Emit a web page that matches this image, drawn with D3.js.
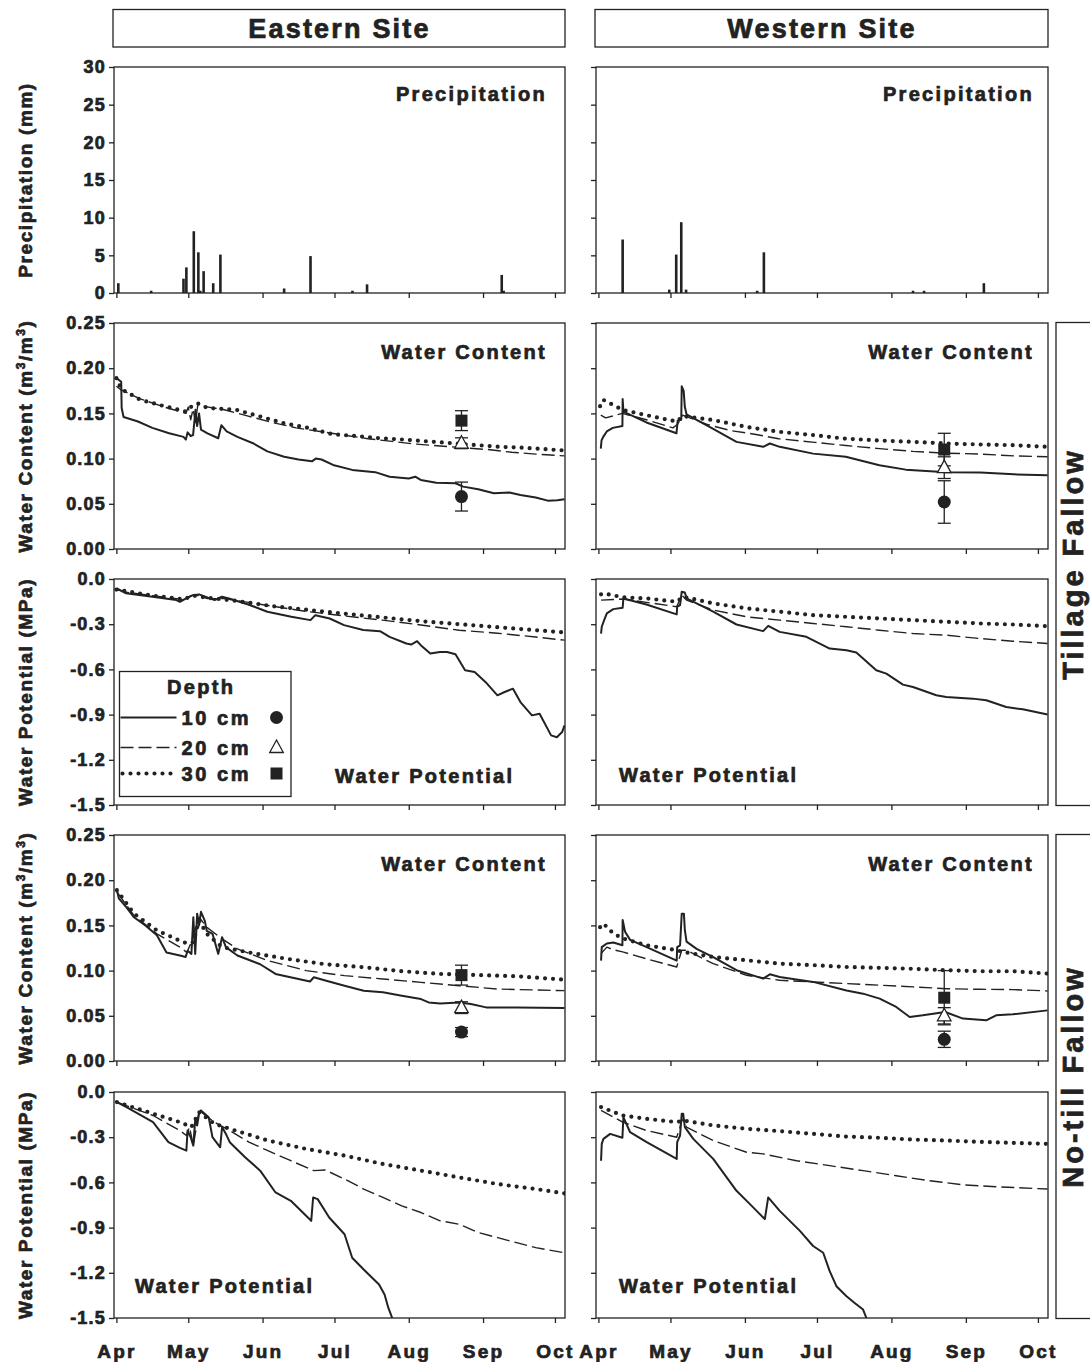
<!DOCTYPE html>
<html>
<head>
<meta charset="utf-8">
<script src="https://cdn.jsdelivr.net/npm/d3@7"></script>
<style>
body { margin: 0; background: #fff; }
svg text { font-family: "Liberation Sans", Arial, sans-serif; font-weight: bold; fill: #222; stroke: #222; stroke-width: 0.7px; }
</style>
</head>
<body>
<svg id="chart" width="1090" height="1362"></svg>
<script>
// tick labels and categories
const months = ["Apr", "May", "Jun", "Jul", "Aug", "Sep", "Oct"];
const sites = ["Eastern Site", "Western Site"];
const treatments = ["Tillage Fallow", "No-till Fallow"];
const depths = ["10 cm", "20 cm", "30 cm"];
const obsDay = 144; // day of the soil sampling (days after Apr 1)

// precipitation: [days after Apr 1, mm]
const precipEast = [[0.8,1.3],[14.5,0.3],[28,1.9],[29.2,3.4],[32.3,8.2],[34.2,5.4],[35,0.3],[36.4,2.9],[40.4,1.3],[43.4,5.1],[70,0.6],[81,4.9],[98.5,0.3],[104.6,1.15],[160.8,2.4],[161.6,0.3]];
const precipWest = [[10.1,7.1],[29.5,0.45],[32.4,5.1],[34.5,9.4],[36.5,0.45],[66.1,0.3],[68.9,5.4],[131,0.3],[135.6,0.3],[160.5,1.3]];

// water content, tillage fallow
const wcTillE10 = [[0,0.189],[2,0.185],[2.2,0.156],[3,0.146],[9,0.141],[15,0.134],[22,0.128],[28,0.124],[29,0.121],[29.7,0.129],[31,0.125],[32,0.126],[33,0.154],[33.7,0.136],[34.5,0.150],[35.3,0.132],[38,0.128],[42.5,0.1225],[43.8,0.137],[46,0.130],[50.5,0.124],[57,0.117],[63,0.108],[70,0.102],[76,0.099],[81.6,0.097],[83.2,0.100],[85.6,0.099],[90.4,0.093],[98.4,0.0875],[108,0.085],[114,0.080],[122,0.078],[124.7,0.080],[127,0.0764],[133.5,0.0734],[141.5,0.0727],[144.7,0.069],[151,0.066],[157.5,0.0616],[164,0.0624],[168.6,0.0598],[175,0.057],[180,0.0535],[184,0.054],[187,0.055]];
const wcTillE20 = [[0,0.180],[2,0.176],[10,0.166],[20,0.157],[28,0.151],[29,0.150],[30,0.157],[31,0.143],[32,0.155],[33,0.140],[34,0.160],[36,0.158],[45,0.154],[55,0.147],[65,0.140],[75,0.134],[85,0.130],[95,0.126],[105,0.122],[115,0.119],[125,0.116],[135,0.114],[145,0.112],[155,0.110],[165,0.107],[175,0.105],[187,0.103]];
const wcTillE30 = [[0,0.189],[2,0.177],[10,0.165],[20,0.158],[29,0.152],[31,0.157],[34,0.161],[38,0.156],[50,0.154],[60,0.1465],[70,0.139],[80,0.134],[90,0.127],[100,0.125],[110,0.1225],[120,0.121],[130,0.119],[140,0.117],[150,0.115],[160,0.113],[170,0.112],[187,0.109]];
const wcTillW10 = [[1,0.111],[1.3,0.120],[2,0.124],[3.5,0.130],[6,0.134],[10,0.136],[10.1,0.166],[10.4,0.152],[20,0.140],[32.5,0.128],[33,0.142],[34.5,0.143],[34.7,0.180],[35.5,0.175],[36,0.157],[36.7,0.149],[47.8,0.133],[57.5,0.1185],[68.6,0.113],[71.4,0.1167],[75.5,0.113],[89.4,0.1055],[103,0.102],[117,0.0926],[128,0.0878],[145,0.085],[159,0.0845],[173,0.0826],[187,0.0815]];
const wcTillW20 = [[1,0.148],[3,0.145],[10,0.150],[20,0.143],[31,0.134],[33,0.138],[35,0.148],[45,0.138],[55,0.131],[65,0.127],[75,0.122],[90,0.118],[103,0.1145],[117,0.111],[131,0.108],[145,0.106],[159,0.105],[173,0.103],[187,0.102]];
const wcTillW30 = [[0.7,0.158],[2,0.165],[10,0.154],[20,0.148],[32.6,0.141],[35.3,0.147],[47.8,0.1426],[61.7,0.135],[75.5,0.1296],[89.4,0.126],[103,0.122],[117,0.120],[131,0.1185],[145,0.1167],[159,0.1156],[173,0.1148],[187,0.113]];

// water potential, tillage fallow
const wpTillE10 = [[0.2,-0.062],[4,-0.095],[15,-0.118],[25,-0.14],[26.5,-0.151],[29.7,-0.124],[32,-0.107],[34.5,-0.102],[41,-0.14],[44,-0.118],[47,-0.129],[55,-0.169],[63,-0.217],[73,-0.251],[81,-0.273],[83,-0.24],[89,-0.262],[95,-0.306],[103,-0.339],[110,-0.346],[114,-0.384],[121,-0.428],[123,-0.435],[125.5,-0.413],[127,-0.439],[131,-0.495],[135,-0.484],[138,-0.484],[141.5,-0.499],[145.5,-0.606],[149.5,-0.617],[154,-0.683],[159,-0.772],[162,-0.75],[165.5,-0.728],[168.6,-0.817],[173.4,-0.905],[176.6,-0.894],[181.4,-1.038],[183.8,-1.05],[186,-1.016],[187,-0.972]];
const wpTillE20 = [[0,-0.07],[5,-0.09],[15,-0.11],[25,-0.13],[29,-0.14],[31,-0.11],[33,-0.105],[38,-0.13],[45,-0.13],[55,-0.155],[65,-0.18],[79,-0.215],[95,-0.245],[111,-0.273],[127,-0.305],[143,-0.34],[159,-0.36],[175,-0.385],[187,-0.406]];
const wpTillE30 = [[0,-0.07],[15,-0.11],[28,-0.135],[32,-0.11],[38,-0.125],[50,-0.145],[65,-0.18],[80,-0.205],[95,-0.23],[111,-0.255],[127,-0.28],[143,-0.3],[159,-0.32],[175,-0.34],[187,-0.355]];
const wpTillW10 = [[1.1,-0.362],[1.4,-0.317],[2.4,-0.273],[3.5,-0.228],[6.2,-0.2],[10.1,-0.191],[10.4,-0.129],[20,-0.169],[32.6,-0.235],[32.8,-0.184],[34,-0.173],[34.7,-0.084],[36,-0.089],[36.7,-0.129],[47.8,-0.217],[57.5,-0.302],[68.6,-0.346],[70.7,-0.311],[75.5,-0.351],[86.6,-0.384],[96.3,-0.462],[103.3,-0.473],[107.4,-0.488],[115.7,-0.606],[119.9,-0.628],[126.8,-0.701],[131,-0.717],[140.7,-0.772],[144.8,-0.783],[155.9,-0.794],[161.5,-0.805],[169.8,-0.85],[176.7,-0.865],[187,-0.899]];
const wpTillW20 = [[1.1,-0.14],[10.4,-0.133],[32.6,-0.184],[34.7,-0.107],[36.7,-0.14],[47.8,-0.206],[61.7,-0.251],[75.5,-0.273],[89.4,-0.295],[103.3,-0.317],[117,-0.34],[131,-0.362],[144.8,-0.373],[158.7,-0.395],[172.6,-0.413],[187,-0.428]];
const wpTillW30 = [[1.1,-0.102],[2.1,-0.095],[10.4,-0.122],[20.1,-0.129],[32.6,-0.151],[35.3,-0.118],[47.8,-0.162],[61.7,-0.195],[75.5,-0.217],[89.4,-0.24],[103.3,-0.251],[117,-0.262],[131,-0.273],[144.8,-0.284],[158.7,-0.295],[172.6,-0.302],[187,-0.313]];

// water content, no-till fallow
const wcNoE10 = [[0.2,0.189],[1,0.18],[4.2,0.170],[7.3,0.159],[12.1,0.15],[16.9,0.139],[20.9,0.120],[26.5,0.1167],[28.9,0.115],[29.7,0.122],[31.3,0.1185],[32.1,0.159],[32.9,0.1185],[33.7,0.163],[34.5,0.15],[35.3,0.165],[36.9,0.155],[37.7,0.144],[40.1,0.1407],[42.5,0.1185],[44.1,0.137],[45.7,0.126],[50.5,0.1167],[60,0.107],[66.4,0.0963],[76,0.0907],[80.8,0.088],[82.4,0.0926],[87.2,0.089],[95.2,0.0833],[103.2,0.0778],[111.2,0.076],[119.1,0.0722],[127.1,0.0685],[130.3,0.0648],[135.1,0.0637],[143.1,0.0648],[147.9,0.063],[154.3,0.0593],[167,0.0593],[187,0.0585]];
const wcNoE20 = [[0.2,0.187],[7.3,0.161],[16.9,0.1407],[26.5,0.126],[29.4,0.12],[31.3,0.1315],[34.5,0.159],[37.7,0.148],[44.1,0.135],[50.5,0.124],[63.2,0.111],[79.2,0.1],[95.2,0.0944],[111.2,0.0907],[127.1,0.087],[143.1,0.0833],[159.1,0.0796],[187,0.0778]];
const wcNoE30 = [[0.2,0.189],[7.3,0.163],[16.9,0.1445],[26.5,0.133],[29.7,0.13],[32.1,0.1315],[34.5,0.1556],[37.7,0.1407],[44.1,0.126],[55.3,0.120],[71.2,0.113],[87.2,0.107],[103.2,0.1037],[119.1,0.0993],[135.1,0.0963],[151.1,0.095],[167,0.0937],[187,0.09]];
const wcNoW10 = [[1.1,0.111],[1.4,0.126],[3.5,0.130],[6.2,0.131],[10.0,0.128],[10.1,0.156],[11.1,0.143],[13.2,0.134],[20.1,0.126],[32.6,0.111],[32.8,0.126],[34,0.128],[34.7,0.163],[35.6,0.163],[36,0.1447],[36.7,0.132],[40.9,0.124],[47.8,0.115],[57.5,0.1004],[68.6,0.0911],[71.4,0.0959],[75.5,0.093],[89.4,0.0875],[103.3,0.078],[110.2,0.0745],[117.1,0.069],[124,0.0598],[129.6,0.0487],[135.1,0.0505],[144.4,0.0542],[151.8,0.0469],[161.5,0.045],[165.6,0.0505],[172.6,0.0517],[187,0.056]];
const wcNoW20 = [[1.1,0.1188],[3.5,0.126],[6.2,0.123],[10.1,0.1207],[20.1,0.113],[32.6,0.104],[34.7,0.1225],[36.7,0.1225],[47.8,0.1077],[61.7,0.0948],[75.5,0.0893],[89.4,0.0875],[103.3,0.0856],[117.1,0.0838],[131,0.082],[144.8,0.080],[158.7,0.0793],[172.6,0.079],[187,0.0775]];
const wcNoW30 = [[0.7,0.148],[2.1,0.152],[6.2,0.141],[10.4,0.1354],[20.1,0.128],[32.6,0.1225],[35.3,0.1207],[47.8,0.115],[61.7,0.1114],[75.5,0.1077],[89.4,0.106],[103.3,0.104],[117.1,0.103],[131,0.102],[144.8,0.1004],[158.7,0.0993],[172.6,0.0993],[187,0.0967]];

// water potential, no-till fallow
const wpNoE10 = [[0.2,-0.067],[4.2,-0.1],[10.5,-0.156],[15.3,-0.2],[18.5,-0.267],[21.7,-0.333],[26.5,-0.371],[29.2,-0.389],[29.7,-0.256],[31,-0.3],[32.1,-0.356],[32.9,-0.178],[33.7,-0.222],[34.5,-0.144],[35.3,-0.122],[38.5,-0.167],[40.1,-0.3],[43.3,-0.367],[44.1,-0.233],[45.7,-0.278],[47.3,-0.333],[53.7,-0.433],[60,-0.522],[66.4,-0.667],[72.8,-0.722],[81.3,-0.855],[82.1,-0.7],[84,-0.711],[88.8,-0.833],[95.2,-0.944],[98.4,-1.1],[103.2,-1.178],[109.6,-1.278],[111.9,-1.344],[113.5,-1.433],[115.1,-1.5]];
const wpNoE20 = [[0.2,-0.067],[15.3,-0.156],[26.5,-0.256],[29.2,-0.289],[30.5,-0.233],[32.1,-0.356],[34.5,-0.122],[40.9,-0.2],[47.3,-0.256],[55.3,-0.333],[63.2,-0.389],[72.8,-0.456],[82.4,-0.522],[87.2,-0.518],[95.2,-0.578],[103.2,-0.644],[111.2,-0.7],[119.1,-0.756],[127.1,-0.8],[135.1,-0.855],[143.1,-0.878],[151.1,-0.933],[159.1,-0.967],[167,-1.0],[175,-1.033],[187,-1.067]];
const wpNoE30 = [[0.2,-0.067],[15.3,-0.144],[26.5,-0.2],[31.3,-0.233],[34.5,-0.133],[40.9,-0.211],[47.3,-0.244],[63.2,-0.322],[79.2,-0.378],[95.2,-0.422],[111.2,-0.478],[127.1,-0.522],[143.1,-0.567],[159.1,-0.611],[175,-0.644],[187,-0.673]];
const wpNoW10 = [[1.1,-0.456],[1.4,-0.344],[2.1,-0.311],[4.9,-0.278],[10.0,-0.304],[10.4,-0.167],[13.2,-0.267],[20.1,-0.333],[32.6,-0.444],[32.8,-0.333],[34,-0.289],[34.7,-0.144],[35.3,-0.144],[36,-0.233],[39.5,-0.311],[47.8,-0.444],[57.5,-0.656],[63.1,-0.744],[69.3,-0.844],[70.7,-0.7],[75.5,-0.789],[83.9,-0.922],[89.4,-1.022],[93.6,-1.067],[96.3,-1.189],[99.1,-1.289],[103.3,-1.356],[106.7,-1.4],[110.2,-1.444],[111.6,-1.5]];
const wpNoW20 = [[1.1,-0.122],[10.1,-0.2],[20.1,-0.256],[32.6,-0.3],[34,-0.233],[34.7,-0.178],[36.7,-0.233],[47.8,-0.322],[61.7,-0.4],[68.6,-0.411],[82.5,-0.456],[96.3,-0.489],[110.2,-0.522],[124,-0.556],[137.9,-0.589],[151.8,-0.616],[165.6,-0.629],[187,-0.644]];
const wpNoW30 = [[1.1,-0.1],[10.1,-0.156],[20.1,-0.178],[32.6,-0.2],[35.3,-0.189],[47.8,-0.222],[61.7,-0.244],[75.5,-0.26],[89.4,-0.278],[103.3,-0.296],[117.1,-0.304],[131,-0.316],[144.8,-0.322],[158.7,-0.331],[172.6,-0.338],[187,-0.344]];

// measured water content on the sampling day: [value, error] for 10, 20, 30 cm
const obsTillEast = [[0.058,0.016],[0.117,0.006],[0.142,0.011]];
const obsTillWest = [[0.052,0.0235],[0.090,0.012],[0.110,0.018]];
const obsNoEast = [[0.032,0.005],[0.059,0.0065],[0.095,0.011]];
const obsNoWest = [[0.024,0.009],[0.050,0.009],[0.070,0.030]];

const svg = d3.select("#chart");
const ink = "#222";

const t0 = new Date(2005, 3, 1);
const toDate = d => new Date(+t0 + d * 864e5);
const monthDates = months.map((m, i) => new Date(2005, 3 + i, 1));

const cols = [{ x: 114, w: 451, pad: 18 }, { x: 596, w: 452, pad: 14 }];
const rowTop = [67, 323, 579, 835, 1092];
const ph = 226;

const rowKinds = ["precip", "wc", "wp", "wc", "wp"];
const yDomains = { precip: [0, 30], wc: [0, 0.25], wp: [-1.5, 0] };
const yTicks = {
    precip: d3.range(0, 31, 5),
    wc: [0, 0.05, 0.1, 0.15, 0.2, 0.25],
    wp: [-1.5, -1.2, -0.9, -0.6, -0.3, 0]
};
const yFmt = {
    precip: d => d,
    wc: d => d.toFixed(2),
    wp: d => (Math.abs(d) < 1e-9 ? 0 : d).toFixed(1)
};
const yTitles = {
    precip: "Precipitation (mm)",
    wp: "Water Potential (MPa)"
};

const panels = [
    { row: 0, col: 0, bars: precipEast },
    { row: 0, col: 1, bars: precipWest },
    { row: 1, col: 0, lines: [wcTillE10, wcTillE20, wcTillE30], obs: obsTillEast },
    { row: 1, col: 1, lines: [wcTillW10, wcTillW20, wcTillW30], obs: obsTillWest },
    { row: 2, col: 0, lines: [wpTillE10, wpTillE20, wpTillE30], label: [221, 204], legend: true },
    { row: 2, col: 1, lines: [wpTillW10, wpTillW20, wpTillW30], label: [23, 203] },
    { row: 3, col: 0, lines: [wcNoE10, wcNoE20, wcNoE30], obs: obsNoEast },
    { row: 3, col: 1, lines: [wcNoW10, wcNoW20, wcNoW30], obs: obsNoWest },
    { row: 4, col: 0, lines: [wpNoE10, wpNoE20, wpNoE30], label: [21, 201] },
    { row: 4, col: 1, lines: [wpNoW10, wpNoW20, wpNoW30], label: [23, 201] }
];

const lineStyles = [
    { width: 2, dash: null, cap: "butt" },
    { width: 1.4, dash: "13,5", cap: "butt" },
    { width: 4.2, dash: "0,8", cap: "round" }
];

function styleLine(sel, i) {
    const s = lineStyles[i];
    sel.attr("fill", "none")
        .attr("stroke", ink)
        .attr("stroke-width", s.width)
        .attr("stroke-linecap", s.cap)
        .attr("stroke-linejoin", "round")
        .attr("stroke-dasharray", s.dash);
}

function drawMarker(g, i, x, y) {
    if (i === 0) {
        g.append("circle").attr("cx", x).attr("cy", y).attr("r", 6.5).attr("fill", ink);
    } else if (i === 1) {
        g.append("path")
            .attr("d", `M${x},${y - 7.5}L${x + 6.8},${y + 5}L${x - 6.8},${y + 5}Z`)
            .attr("fill", "#fff").attr("stroke", ink).attr("stroke-width", 1.3);
    } else {
        g.append("rect").attr("x", x - 6).attr("y", y - 6).attr("width", 12).attr("height", 12).attr("fill", ink);
    }
}

// site headers
sites.forEach((s, c) => {
    const col = cols[c];
    svg.append("rect")
        .attr("x", col.x - 1).attr("y", 9.5).attr("width", col.w + 1).attr("height", 37.5)
        .attr("fill", "none").attr("stroke", ink).attr("stroke-width", 1.3);
    svg.append("text")
        .attr("x", col.x + col.w / 2).attr("y", 28).attr("dy", "0.36em")
        .attr("text-anchor", "middle")
        .style("font-size", "27px").style("letter-spacing", "2.2px")
        .text(s);
});

// treatment boxes on the right
treatments.forEach((t, i) => {
    const top = rowTop[1 + i * 2] - 0.5;
    const bottom = rowTop[2 + i * 2] + ph + 0.5;
    svg.append("rect")
        .attr("x", 1056).attr("y", top).attr("width", 60).attr("height", bottom - top)
        .attr("fill", "none").attr("stroke", ink).attr("stroke-width", 1.3);
    svg.append("text")
        .attr("transform", `translate(1073,${(top + bottom) / 2}) rotate(-90)`)
        .attr("dy", "0.36em")
        .attr("text-anchor", "middle")
        .style("font-size", "29px").style("letter-spacing", "3px")
        .text(t);
});

// y axis titles
rowKinds.forEach((k, r) => {
    const t = svg.append("text")
        .attr("transform", `translate(32,${rowTop[r] + ph / 2}) rotate(-90)`)
        .attr("text-anchor", "middle")
        .style("font-size", "19px").style("letter-spacing", "1.6px");
    if (k === "wc") {
        t.append("tspan").text("Water Content (m");
        t.append("tspan").attr("dy", -7).style("font-size", "12px").text("3");
        t.append("tspan").attr("dy", 7).text("/m");
        t.append("tspan").attr("dy", -7).style("font-size", "12px").text("3");
        t.append("tspan").attr("dy", 7).text(")");
    } else {
        t.text(yTitles[k]);
    }
});

panels.forEach((p, pi) => {
    const col = cols[p.col];
    const kind = rowKinds[p.row];
    const g = svg.append("g").attr("transform", `translate(${col.x},${rowTop[p.row]})`);

    const x = d3.scaleTime()
        .domain([toDate(-1), toDate(187.2)])
        .range([0, col.w]);
    const y = d3.scaleLinear().domain(yDomains[kind]).range([ph, 0]);

    const clipId = "clip" + pi;
    g.append("clipPath").attr("id", clipId)
        .append("rect").attr("width", col.w).attr("height", ph);

    // y axis
    const yAxis = g.append("g")
        .call(d3.axisLeft(y).tickValues(yTicks[kind]).tickSize(5).tickPadding(3)
            .tickFormat(p.col === 0 ? yFmt[kind] : ""));
    yAxis.select(".domain").remove();
    yAxis.selectAll("line").attr("stroke", ink).attr("stroke-width", 1.3);
    yAxis.selectAll("text")
        .attr("fill", ink)
        .style("font-family", "'Liberation Sans', Arial, sans-serif")
        .style("font-weight", "bold")
        .style("font-size", "18px")
        .style("letter-spacing", "1.2px");

    // x axis
    const xAxis = g.append("g")
        .attr("transform", `translate(0,${ph})`)
        .call(d3.axisBottom(x).tickValues(monthDates).tickSize(5)
            .tickFormat((d, i) => (p.row === 4 ? months[i] : "")));
    xAxis.select(".domain").remove();
    xAxis.selectAll("line").attr("stroke", ink).attr("stroke-width", 1.3);
    xAxis.selectAll("text")
        .attr("y", 40).attr("dy", null)
        .attr("fill", ink)
        .style("font-family", "'Liberation Sans', Arial, sans-serif")
        .style("font-weight", "bold")
        .style("font-size", "19px")
        .style("letter-spacing", "2.2px");

    const plot = g.append("g").attr("clip-path", `url(#${clipId})`);

    if (p.bars) {
        plot.selectAll(".bar")
            .data(p.bars)
            .enter()
            .append("rect")
            .attr("class", "bar")
            .attr("x", d => x(toDate(d[0])) - 1.3)
            .attr("y", d => y(d[1]))
            .attr("width", 2.6)
            .attr("height", d => ph - y(d[1]))
            .attr("fill", ink);
    }

    if (p.lines) {
        const line = d3.line()
            .x(d => x(toDate(d[0])))
            .y(d => y(d[1]));
        p.lines.forEach((series, i) => {
            plot.append("path")
                .datum(series)
                .attr("d", line)
                .call(styleLine, i);
        });
    }

    if (p.obs) {
        const ox = x(toDate(obsDay));
        const og = g.append("g");
        p.obs.forEach(([v, e]) => {
            og.append("line").attr("x1", ox).attr("x2", ox)
                .attr("y1", y(v - e)).attr("y2", y(v + e))
                .attr("stroke", ink).attr("stroke-width", 1.3);
            [v - e, v + e].forEach(c => {
                og.append("line").attr("x1", ox - 6.5).attr("x2", ox + 6.5)
                    .attr("y1", y(c)).attr("y2", y(c))
                    .attr("stroke", ink).attr("stroke-width", 1.3);
            });
        });
        p.obs.forEach(([v], i) => drawMarker(og, i, ox, y(v)));
    }

    // frame
    g.append("rect")
        .attr("width", col.w).attr("height", ph)
        .attr("fill", "none").attr("stroke", ink).attr("stroke-width", 1.3);

    // panel label
    const lab = g.append("text")
        .style("font-size", "20px").style("letter-spacing", "2.3px");
    if (kind === "precip" || kind === "wc") {
        lab.attr("x", col.w - col.pad).attr("y", kind === "precip" ? 34 : 36)
            .attr("text-anchor", "end")
            .text(kind === "precip" ? "Precipitation" : "Water Content");
    } else {
        lab.attr("x", p.label[0]).attr("y", p.label[1]).text("Water Potential");
    }

    // depth legend
    if (p.legend) {
        const lg = g.append("g").attr("transform", "translate(5.5,92.5)");
        lg.append("rect").attr("width", 171.5).attr("height", 125)
            .attr("fill", "#fff").attr("stroke", ink).attr("stroke-width", 1.3);
        lg.append("text").attr("x", 47.5).attr("y", 22)
            .style("font-size", "20px").style("letter-spacing", "2.3px")
            .text("Depth");
        const rowsY = [46, 76, 102];
        depths.forEach((dname, i) => {
            lg.append("path")
                .attr("d", `M${i === 2 ? 3 : 1},${rowsY[i]}H57`)
                .call(styleLine, i);
            lg.append("text").attr("x", 62).attr("y", rowsY[i] + 7)
                .style("font-size", "20px").style("letter-spacing", "2.6px")
                .text(dname);
            drawMarker(lg, i, 157, rowsY[i]);
        });
    }
});
</script>
</body>
</html>
